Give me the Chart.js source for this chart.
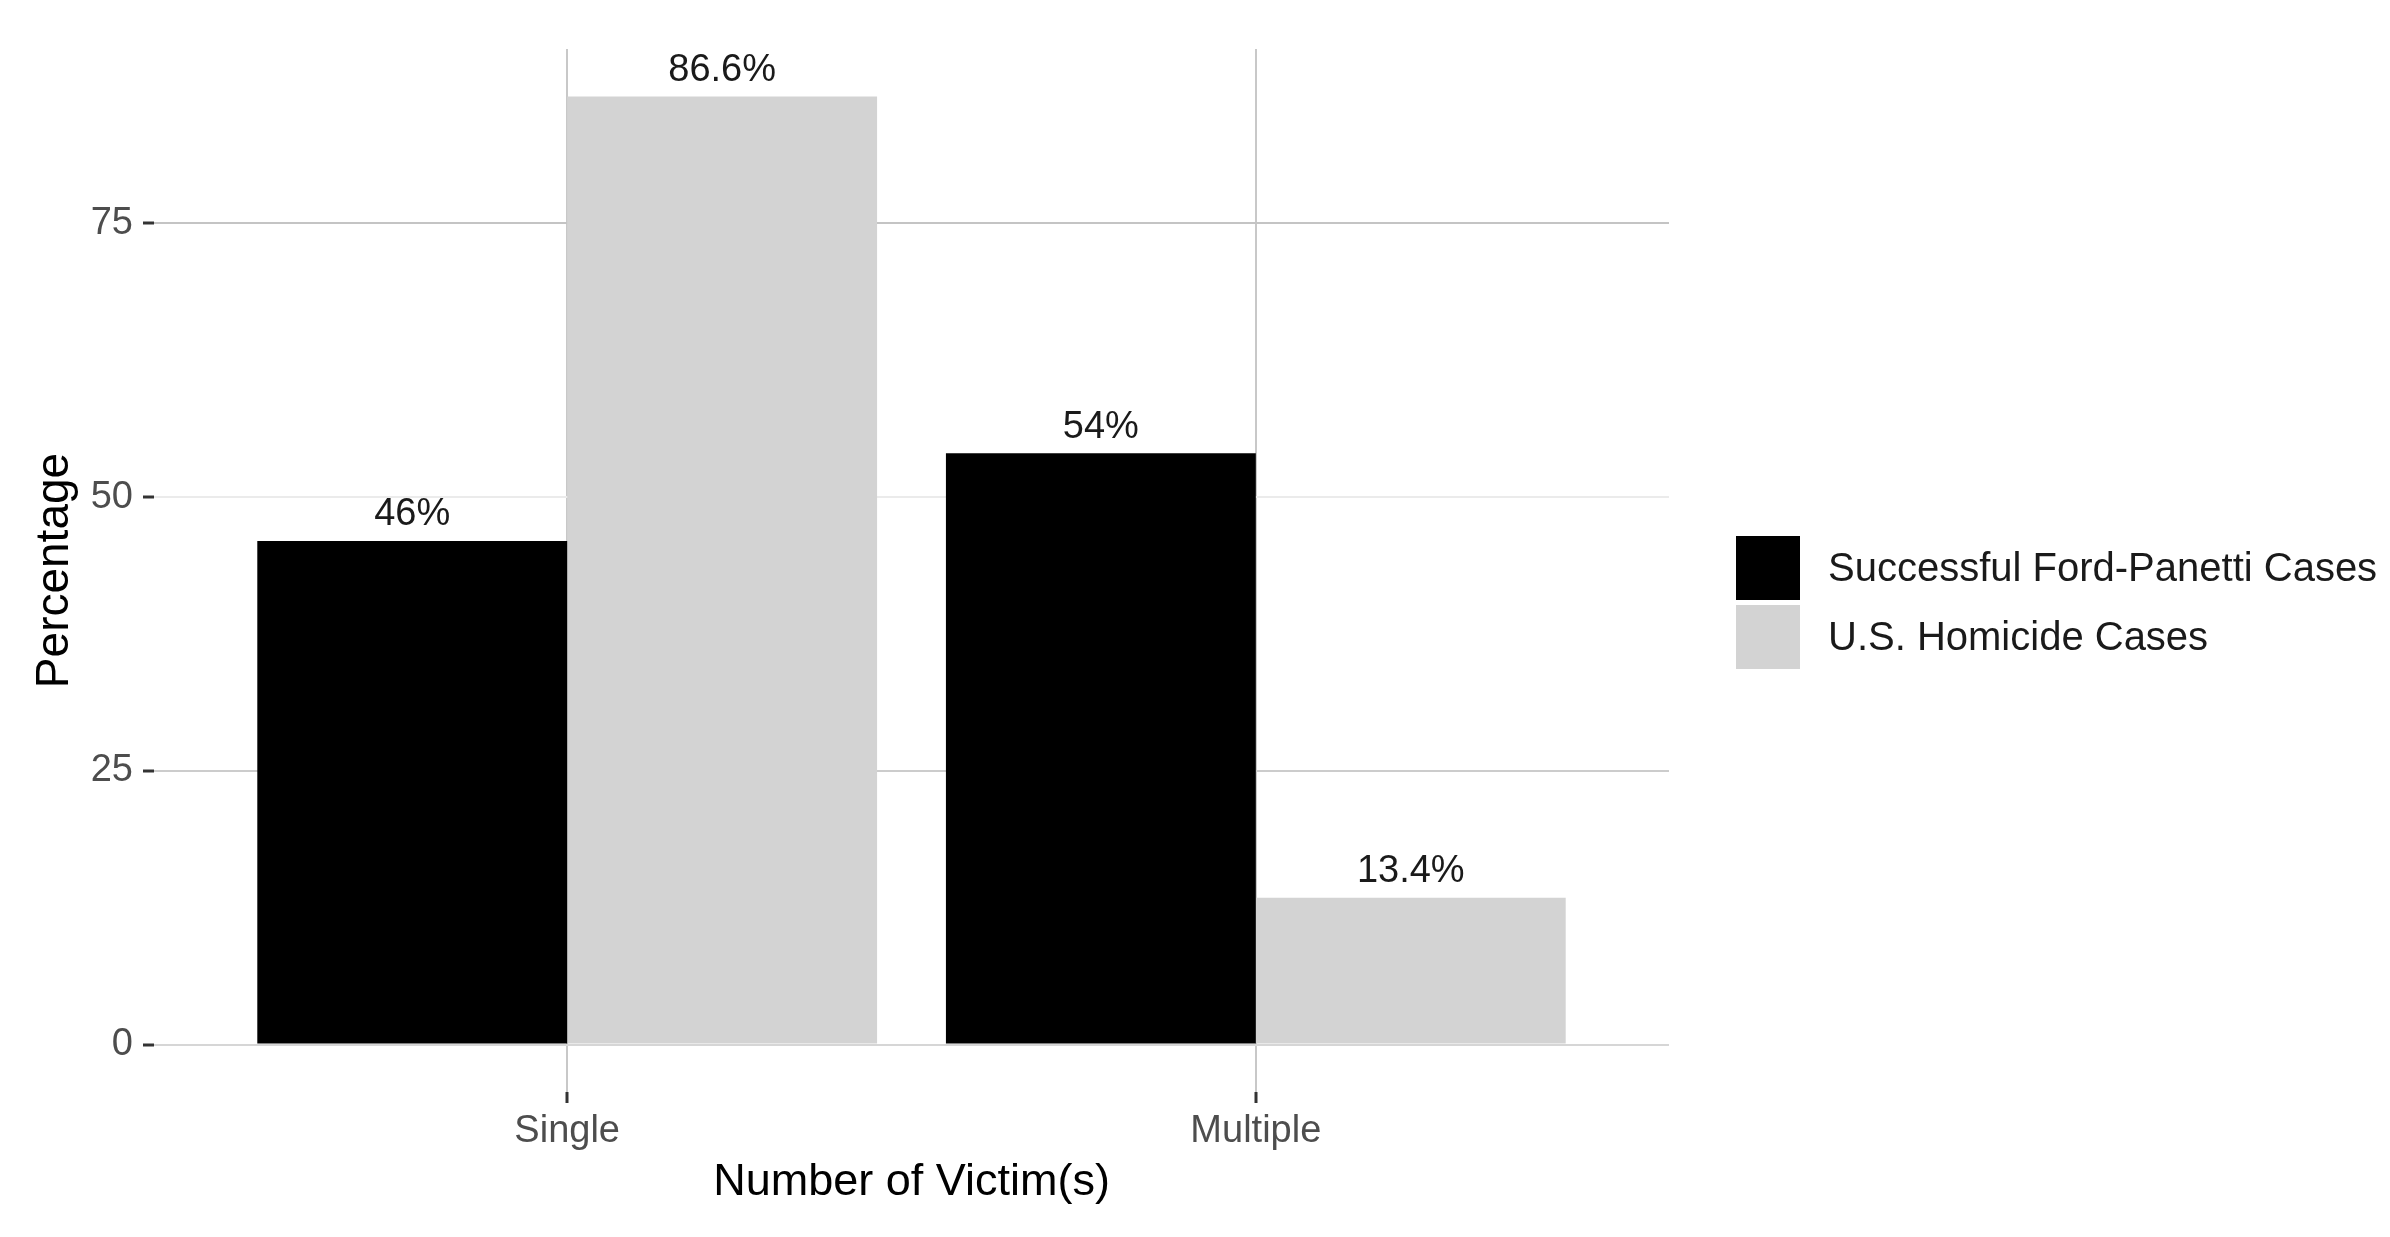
<!DOCTYPE html>
<html>
<head>
<meta charset="utf-8">
<script src="https://cdn.jsdelivr.net/npm/chart.js@4/dist/chart.umd.min.js"></script>
<style>
  html, body { margin: 0; padding: 0; background: #ffffff; }
  #wrap { width: 2390px; height: 1237px; position: relative; }
</style>
</head>
<body>
<div id="wrap"><canvas id="c" width="2390" height="1237"></canvas></div>
<script>
// ---- data ----
const categories = ["Single", "Multiple"];
const categoryPositions = [1, 2];
const seriesNames = ["Successful Ford-Panetti Cases", "U.S. Homicide Cases"];
const fordPanetti = [46, 54];
const usHomicide = [86.6, 13.4];
const fordPanettiLabels = ["46%", "54%"];
const usHomicideLabels = ["86.6%", "13.4%"];
const yTicks = [0, 25, 50, 75];
const seriesColors = ["#000000", "#d3d3d3"];

const FONT = "'Liberation Sans', Arial, sans-serif";

const valueLabelPlugin = {
  id: 'valueLabels',
  afterDatasetsDraw(chart) {
    const ctx = chart.ctx;
    const labelSets = [fordPanettiLabels, usHomicideLabels];
    ctx.save();
    ctx.font = "38px " + FONT;
    ctx.fillStyle = "#1a1a1a";
    ctx.textAlign = "center";
    ctx.textBaseline = "middle";
    chart.data.datasets.forEach((ds, di) => {
      const meta = chart.getDatasetMeta(di);
      meta.data.forEach((bar, i) => {
        ctx.fillText(labelSets[di][i], bar.x, bar.y - 26);
      });
    });
    ctx.restore();
  }
};

const legendPlugin = {
  id: 'sideLegend',
  afterDraw(chart) {
    const ctx = chart.ctx;
    const area = chart.chartArea;
    const boxX = area.right + 67;
    const boxSize = 64;
    const gap = 5;
    const startY = 536;
    ctx.save();
    ctx.font = "40px " + FONT;
    ctx.textAlign = "left";
    ctx.textBaseline = "middle";
    chart.data.datasets.forEach((ds, i) => {
      const y = startY + i * (boxSize + gap);
      ctx.fillStyle = ds.backgroundColor;
      ctx.fillRect(boxX, y, boxSize, boxSize);
      ctx.fillStyle = "#1a1a1a";
      ctx.fillText(ds.label, boxX + boxSize + 28, y + boxSize / 2 + 2);
    });
    ctx.restore();
  }
};

const yGridColors = {0: "#d6d6d6", 25: "#cccccc", 50: "#ebebeb", 75: "#c4c4c4"};

new Chart(document.getElementById('c'), {
  type: 'bar',
  data: {
    datasets: [
      {
        label: seriesNames[0],
        data: categoryPositions.map((x, i) => ({x: x, y: fordPanetti[i]})),
        backgroundColor: seriesColors[0],
        borderWidth: 0
      },
      {
        label: seriesNames[1],
        data: categoryPositions.map((x, i) => ({x: x, y: usHomicide[i]})),
        backgroundColor: seriesColors[1],
        borderWidth: 0
      }
    ]
  },
  plugins: [valueLabelPlugin, legendPlugin],
  options: {
    responsive: false,
    animation: false,
    devicePixelRatio: 1,
    layout: { padding: { left: 0, right: 721, top: 49, bottom: 0 } },
    datasets: { bar: { categoryPercentage: 0.9, barPercentage: 1.0 } },
    plugins: {
      legend: { display: false },
      tooltip: { enabled: false }
    },
    scales: {
      x: {
        type: 'linear',
        min: 0.4,
        max: 2.6,
        offset: false,
        afterBuildTicks(scale) {
          scale.ticks = categoryPositions.map(v => ({value: v}));
        },
        afterFit(scale) { scale.height = 145; },
        border: { display: false },
        grid: {
          offset: false,
          color: "#c8c8c8",
          lineWidth: 2,
          drawTicks: true,
          tickLength: 11,
          tickColor: "#333333",
          tickWidth: 3
        },
        ticks: {
          autoSkip: false,
          maxRotation: 0,
          padding: 6,
          color: "#4d4d4d",
          font: { family: FONT, size: 38 },
          callback: (v) => {
            const idx = categoryPositions.indexOf(v);
            return idx >= 0 ? categories[idx] : '';
          }
        },
        title: {
          display: true,
          text: "Number of Victim(s)",
          color: "#000000",
          font: { family: FONT, size: 45 },
          padding: { top: 0, bottom: 27 }
        }
      },
      y: {
        type: 'linear',
        min: -4.33,
        max: 90.93,
        afterBuildTicks(scale) {
          scale.ticks = yTicks.map(v => ({value: v}));
        },
        afterFit(scale) { scale.width = 154; },
        border: { display: false },
        grid: {
          color: (c) => (c.tick ? (yGridColors[c.tick.value] || "#dddddd") : "#dddddd"),
          lineWidth: 2,
          drawTicks: true,
          tickLength: 11,
          tickColor: "#333333",
          tickWidth: 3
        },
        ticks: {
          padding: 10,
          color: "#4d4d4d",
          font: { family: FONT, size: 38 },
          callback: (v) => String(v)
        },
        title: {
          display: true,
          text: "Percentage",
          color: "#000000",
          font: { family: FONT, size: 46 },
          padding: { top: 28, bottom: 0 }
        }
      }
    }
  }
});
</script>
</body>
</html>
